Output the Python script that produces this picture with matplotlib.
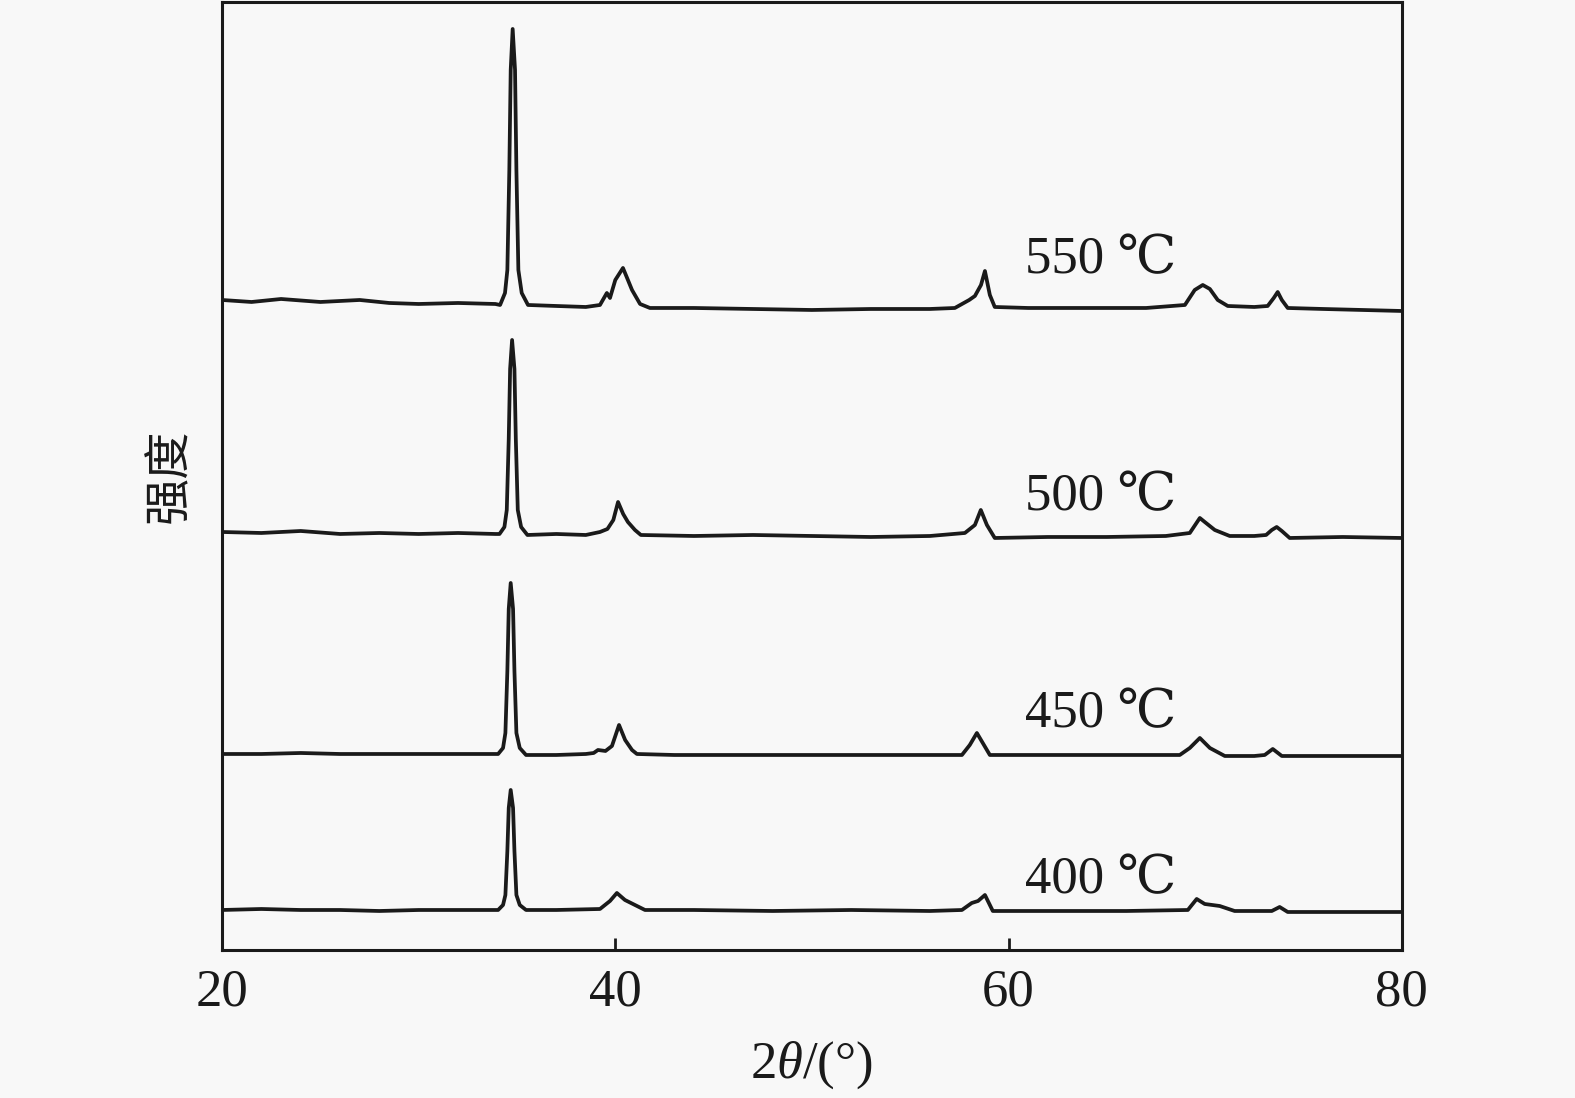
import matplotlib.pyplot as plt

plt.rcParams['font.family'] = ['Liberation Serif', 'DejaVu Serif']
plt.rcParams['mathtext.fontset'] = 'custom'
plt.rcParams['mathtext.rm'] = 'Liberation Serif'
plt.rcParams['mathtext.it'] = 'Liberation Serif:italic'

# XRD patterns (2theta in degrees, intensity in a.u., already stacked)
tt_400 = [20.0, 22.0, 24.0, 26.0, 28.0, 30.0, 32.0, 33.8, 34.04, 34.29, 34.41, 34.51, 34.58, 34.68,
          34.80, 34.87, 34.97, 35.14, 35.46, 37.0, 39.22, 39.73, 40.08, 40.49, 41.0, 41.51, 44.0,
          48.0, 52.0, 56.0, 57.63, 58.13, 58.45, 58.80, 59.2, 62.0, 66.0, 69.12, 69.57, 69.98,
          70.74, 71.5, 73.39, 73.79, 74.2, 77.0, 80.0]
i_400 = [40, 41, 40, 40, 39, 40, 40, 40, 40, 45, 55, 99, 142, 160,
         142, 99, 55, 45, 40, 40, 41, 49, 57, 50, 45, 40, 40,
         39, 40, 39, 40, 47, 49, 55, 39, 39, 39, 40, 51, 46,
         44, 39, 39, 43, 38, 38, 38]

tt_450 = [20.0, 22.0, 24.0, 26.0, 28.0, 30.0, 32.0, 33.8, 34.04, 34.29, 34.41, 34.51, 34.58, 34.68,
          34.80, 34.87, 34.97, 35.14, 35.46, 37.0, 38.5, 38.9, 39.12, 39.5, 39.83, 40.19, 40.5,
          40.85, 41.10, 43.0, 46.0, 49.0, 52.0, 55.0, 57.63, 58.03, 58.39, 58.75, 59.05, 62.0,
          65.0, 68.71, 69.22, 69.73, 70.24, 71.0, 72.5, 73.03, 73.44, 73.90, 76.0, 80.0]
i_450 = [196, 196, 197, 196, 196, 196, 196, 196, 196, 202, 217, 279, 341, 367,
         341, 279, 217, 202, 195, 195, 196, 197, 200, 199, 204, 225, 210,
         200, 196, 195, 195, 195, 195, 195, 195, 205, 217, 205, 195, 195,
         195, 195, 202, 212, 202, 194, 194, 195, 201, 194, 194, 194]

tt_500 = [20.0, 22.0, 24.0, 26.0, 28.0, 30.0, 32.0, 33.9, 34.11, 34.36, 34.48, 34.58, 34.65, 34.75,
          34.87, 34.94, 35.04, 35.21, 35.53, 37.0, 38.5, 39.22, 39.6, 39.9, 40.14, 40.4, 40.64,
          41.0, 41.3, 44.0, 47.0, 50.0, 53.0, 56.0, 57.78, 58.29, 58.59, 58.90, 59.30, 62.0,
          65.0, 68.0, 69.22, 69.73, 69.98, 70.49, 71.25, 72.5, 73.1, 73.39, 73.64, 73.90, 74.3,
          77.0, 80.0]
i_500 = [418, 417, 419, 416, 417, 416, 417, 416, 416, 423, 440, 511, 581, 610,
         581, 511, 440, 423, 415, 416, 415, 418, 421, 430, 448, 436, 428,
         420, 415, 414, 415, 414, 413, 414, 417, 425, 440, 425, 412, 413,
         413, 414, 417, 432, 428, 420, 414, 414, 415, 420, 423, 419, 412,
         413, 412]

tt_550 = [20.0, 21.5, 23.0, 25.0, 27.0, 28.5, 30.0, 32.0, 33.9, 34.14, 34.39, 34.51, 34.61, 34.68,
          34.78, 34.90, 34.97, 35.07, 35.24, 35.56, 37.0, 38.5, 39.22, 39.57, 39.73, 40.0, 40.39,
          40.6, 40.85, 41.26, 41.76, 44.0, 47.0, 50.0, 53.0, 56.0, 57.27, 58.0, 58.29, 58.6,
          58.80, 59.05, 59.30, 61.0, 64.6, 67.0, 68.97, 69.47, 69.88, 70.24, 70.64, 71.15, 72.5,
          73.18, 73.49, 73.69, 73.90, 74.20, 76.0, 78.0, 80.0]
i_550 = [650, 648, 651, 648, 650, 647, 646, 647, 646, 645, 657, 680, 780, 880,
         921, 880, 780, 680, 657, 645, 644, 643, 645, 657, 652, 670, 682,
         672, 660, 646, 642, 642, 641, 640, 641, 641, 642, 650, 654, 665,
         679, 655, 643, 642, 642, 642, 645, 660, 665, 661, 650, 644, 643,
         644, 652, 658, 650, 642, 641, 640, 639]

labels = ['400 ℃', '450 ℃', '500 ℃', '550 ℃']
label_y = [57, 223, 440, 677]
label_x = 60.83

bg = '#f8f8f8'
fig = plt.figure(figsize=(15.75, 10.98), dpi=100, facecolor=bg)
ax = fig.add_axes([0.141, 0.1348, 0.749, 0.8634], facecolor=bg)

for tt, ii in [(tt_400, i_400), (tt_450, i_450), (tt_500, i_500), (tt_550, i_550)]:
    ax.plot(tt, ii, color='#1a1a1a', lw=2.7, solid_joinstyle='round')

for lab, y in zip(labels, label_y):
    ax.text(label_x, y, lab, fontsize=38, ha='left', va='baseline', color='#1a1a1a')

ax.set_xlim(20, 80)
ax.set_ylim(0, 948)
ax.set_xticks([20, 40, 60, 80])
ax.set_yticks([])
ax.tick_params(axis='x', direction='in', length=9, width=2, labelsize=38, pad=13,
               colors='#1a1a1a')
for s in ax.spines.values():
    s.set_linewidth(2.2)
    s.set_color('#1a1a1a')

ax.set_xlabel(r'2$\theta$/(°)', fontsize=38, labelpad=17, color='#1a1a1a')
ax.set_ylabel('强度', fontsize=34, labelpad=20, color='#1a1a1a',
              family=['Noto Sans CJK SC', 'DejaVu Sans'])

plt.savefig('out.png', dpi=100, facecolor=bg)
